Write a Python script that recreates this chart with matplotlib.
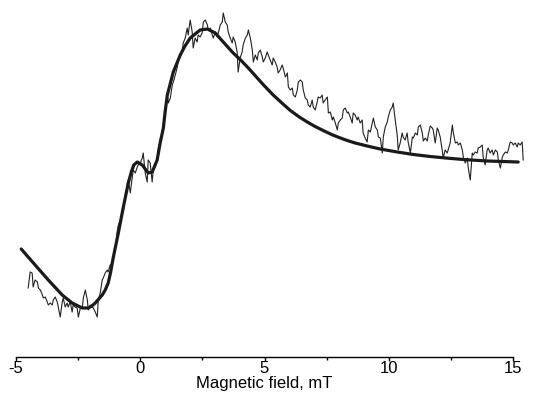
import numpy as np
import matplotlib
matplotlib.use("Agg")
import matplotlib.pyplot as plt
from matplotlib.ticker import MultipleLocator

plt.rcParams['font.family'] = ['Liberation Sans', 'DejaVu Sans']

field_exp = [
    -4.51, -4.43, -4.35, -4.31, -4.23, -4.14, -4.10, -4.02, -3.94, -3.90,
    -3.82, -3.74, -3.70, -3.62, -3.54, -3.50, -3.42, -3.34, -3.30, -3.22,
    -3.14, -3.10, -3.02, -2.94, -2.90, -2.82, -2.74, -2.70, -2.62, -2.54,
    -2.49, -2.41, -2.33, -2.29, -2.21, -2.13, -2.09, -2.01, -1.93, -1.89,
    -1.81, -1.73, -1.69, -1.61, -1.53, -1.49, -1.41, -1.33, -1.29, -1.21,
    -1.13, -1.09, -1.01, -0.93, -0.89, -0.80, -0.72, -0.68, -0.60, -0.52,
    -0.48, -0.40, -0.32, -0.28, -0.20, -0.12, -0.08, 0.00, 0.08, 0.12,
    0.20, 0.28, 0.32, 0.40, 0.48, 0.52, 0.60, 0.68, 0.72, 0.80,
    0.89, 1.01, 1.09, 1.13, 1.21, 1.29, 1.33, 1.41, 1.49, 1.53,
    1.61, 1.69, 1.73, 1.81, 1.89, 1.93, 2.01, 2.09, 2.13, 2.21,
    2.29, 2.33, 2.41, 2.49, 2.54, 2.62, 2.70, 2.74, 2.82, 2.90,
    2.94, 3.02, 3.10, 3.14, 3.22, 3.30, 3.34, 3.42, 3.50, 3.54,
    3.62, 3.70, 3.74, 3.82, 3.90, 3.94, 4.02, 4.10, 4.14, 4.23,
    4.31, 4.35, 4.43, 4.51, 4.55, 4.63, 4.71, 4.75, 4.83, 4.91,
    4.95, 5.03, 5.11, 5.15, 5.23, 5.31, 5.35, 5.43, 5.51, 5.55,
    5.63, 5.71, 5.75, 5.84, 5.92, 5.96, 6.04, 6.12, 6.16, 6.24,
    6.32, 6.36, 6.44, 6.52, 6.56, 6.64, 6.72, 6.76, 6.84, 6.92,
    6.96, 7.04, 7.12, 7.16, 7.24, 7.32, 7.36, 7.44, 7.53, 7.57,
    7.65, 7.73, 7.77, 7.85, 7.93, 7.97, 8.05, 8.13, 8.17, 8.25,
    8.33, 8.37, 8.45, 8.53, 8.57, 8.65, 8.73, 8.77, 8.85, 8.93,
    8.97, 9.05, 9.13, 9.18, 9.26, 9.34, 9.38, 9.46, 9.54, 9.58,
    9.66, 9.74, 9.78, 9.86, 9.94, 9.98, 10.06, 10.14, 10.18, 10.26,
    10.34, 10.38, 10.46, 10.54, 10.58, 10.66, 10.74, 10.78, 10.87, 10.95,
    10.99, 11.07, 11.15, 11.19, 11.27, 11.35, 11.39, 11.47, 11.55, 11.59,
    11.67, 11.75, 11.79, 11.87, 11.95, 11.99, 12.07, 12.15, 12.19, 12.27,
    12.35, 12.39, 12.47, 12.56, 12.60, 12.68, 12.76, 12.80, 12.88, 12.96,
    13.00, 13.08, 13.16, 13.20, 13.28, 13.36, 13.40, 13.48, 13.56, 13.60,
    13.68, 13.76, 13.80, 13.88, 13.96, 14.00, 14.08, 14.16, 14.21, 14.29,
    14.37, 14.41, 14.49, 14.57, 14.61, 14.69, 14.77, 14.81, 14.89, 14.97,
    15.01, 15.09, 15.17, 15.21, 15.29, 15.37, 15.41,
]
signal_exp = [
    -1.24, -1.08, -1.09, -1.23, -1.16, -1.18, -1.24, -1.26, -1.31, -1.34,
    -1.33, -1.38, -1.41, -1.39, -1.41, -1.36, -1.33, -1.38, -1.43, -1.53,
    -1.38, -1.34, -1.43, -1.39, -1.43, -1.38, -1.48, -1.41, -1.43, -1.44,
    -1.53, -1.44, -1.43, -1.34, -1.26, -1.36, -1.46, -1.41, -1.43, -1.44,
    -1.48, -1.53, -1.36, -1.29, -1.16, -1.14, -1.09, -1.06, -1.08, -1.01,
    -0.99, -0.96, -0.86, -0.68, -0.62, -0.56, -0.46, -0.48, -0.33, -0.19,
    -0.16, -0.29, -0.13, -0.06, -0.09, -0.03, -0.01, 0.01, 0.06, 0.11,
    -0.09, -0.18, 0.04, 0.01, -0.18, -0.06, -0.03, 0.04, 0.14, 0.24,
    0.31, 0.54, 0.69, 0.61, 0.66, 0.79, 0.82, 0.89, 0.97, 1.04,
    1.09, 1.14, 1.21, 1.26, 1.36, 1.29, 1.44, 1.32, 1.16, 1.26,
    1.22, 1.29, 1.27, 1.31, 1.42, 1.44, 1.39, 1.34, 1.36, 1.29,
    1.26, 1.32, 1.27, 1.31, 1.39, 1.42, 1.51, 1.42, 1.39, 1.32,
    1.26, 1.21, 1.27, 1.22, 1.12, 0.92, 1.06, 1.12, 1.19, 1.26,
    1.29, 1.34, 1.26, 1.14, 1.02, 1.09, 1.04, 1.11, 1.14, 1.07,
    1.02, 1.06, 1.12, 1.09, 1.04, 0.99, 1.06, 1.02, 0.97, 0.91,
    0.94, 0.99, 0.96, 0.87, 0.91, 0.77, 0.74, 0.76, 0.69, 0.67,
    0.74, 0.82, 0.84, 0.82, 0.74, 0.66, 0.64, 0.59, 0.57, 0.64,
    0.57, 0.54, 0.62, 0.67, 0.66, 0.69, 0.61, 0.64, 0.67, 0.51,
    0.52, 0.44, 0.47, 0.41, 0.34, 0.41, 0.44, 0.46, 0.54, 0.56,
    0.51, 0.52, 0.47, 0.41, 0.51, 0.49, 0.44, 0.47, 0.41, 0.44,
    0.31, 0.26, 0.22, 0.34, 0.32, 0.41, 0.46, 0.37, 0.34, 0.27,
    0.26, 0.11, 0.27, 0.37, 0.42, 0.47, 0.54, 0.57, 0.61, 0.44,
    0.29, 0.14, 0.21, 0.31, 0.27, 0.24, 0.31, 0.22, 0.11, 0.27,
    0.26, 0.31, 0.29, 0.37, 0.39, 0.31, 0.23, 0.26, 0.23, 0.29,
    0.38, 0.36, 0.34, 0.21, 0.36, 0.34, 0.27, 0.14, 0.06, 0.14,
    0.11, 0.14, 0.21, 0.39, 0.31, 0.21, 0.22, 0.19, 0.21, 0.14,
    0.07, 0.01, 0.06, -0.04, -0.16, 0.11, 0.09, 0.12, 0.11, 0.16,
    0.17, 0.19, 0.07, -0.01, 0.14, 0.16, 0.11, 0.14, 0.09, 0.14,
    0.12, 0.04, -0.04, 0.07, 0.09, 0.12, 0.11, 0.14, 0.22, 0.21,
    0.19, 0.21, 0.17, 0.21, 0.19, 0.22, 0.04,
]

# simulated spectrum
field_sim = [
    -4.79, -4.23, -3.70, -3.14, -2.74, -2.50, -2.33, -2.09, -1.95, -1.81,
    -1.67, -1.53, -1.41, -1.29, -1.19, -1.09, -0.89, -0.68, -0.48, -0.36,
    -0.26, -0.12, 0.08, 0.32, 0.48, 0.68, 0.80, 0.93, 1.00, 1.09,
    1.33, 1.61, 1.80, 2.01, 2.41, 2.70, 3.02, 3.34, 3.74, 4.00,
    4.35, 4.71, 5.00, 5.35, 5.70, 6.04, 6.40, 6.72, 7.00, 7.36,
    7.70, 8.00, 8.33, 8.65, 8.97, 9.30, 9.66, 10.00, 10.34, 10.99,
    11.67, 12.30, 13.00, 13.96, 15.21,
]
signal_sim = [
    -0.85, -1.01, -1.16, -1.31, -1.39, -1.42, -1.44, -1.44, -1.42, -1.39,
    -1.35, -1.31, -1.26, -1.19, -1.08, -0.94, -0.70, -0.43, -0.19, -0.08,
    -0.01, 0.02, -0.01, -0.09, -0.08, 0.04, 0.21, 0.36, 0.52, 0.69,
    0.92, 1.09, 1.18, 1.26, 1.34, 1.35, 1.31, 1.22, 1.11, 1.05,
    0.96, 0.86, 0.78, 0.69, 0.61, 0.535, 0.47, 0.42, 0.38, 0.335,
    0.295, 0.265, 0.235, 0.21, 0.19, 0.17, 0.15, 0.135, 0.12, 0.095,
    0.075, 0.06, 0.045, 0.03, 0.02,
]

fig = plt.figure(figsize=(5.33, 4.03), dpi=100)
ax = fig.add_axes([16 / 533, 46 / 403, 497 / 533, 357 / 403])

ax.plot(field_exp, signal_exp, color='#222222', lw=0.8, clip_on=False)
ax.plot(field_sim, signal_sim, color='#1a1a1a', lw=2.3, solid_joinstyle='round',
        solid_capstyle='round', clip_on=False)

ax.set_xlim(-5, 15)
ax.set_ylim(-1.93, 1.64)

for side in ['top', 'left', 'right']:
    ax.spines[side].set_visible(False)
ax.spines['bottom'].set_linewidth(1.0)
ax.set_yticks([])
ax.set_xticks([-5, 0, 5, 10, 15])
ax.set_xticklabels(['-5', '0', '5', '10', '15'])
ax.xaxis.set_minor_locator(MultipleLocator(2.5))
ax.tick_params(axis='x', which='major', length=3.2, width=1.0, labelsize=12, pad=0)
ax.tick_params(axis='x', which='minor', length=2.4, width=1.0)
ax.set_xlabel('Magnetic field, mT', fontsize=12, labelpad=0)

fig.savefig('out.png', dpi=100)
